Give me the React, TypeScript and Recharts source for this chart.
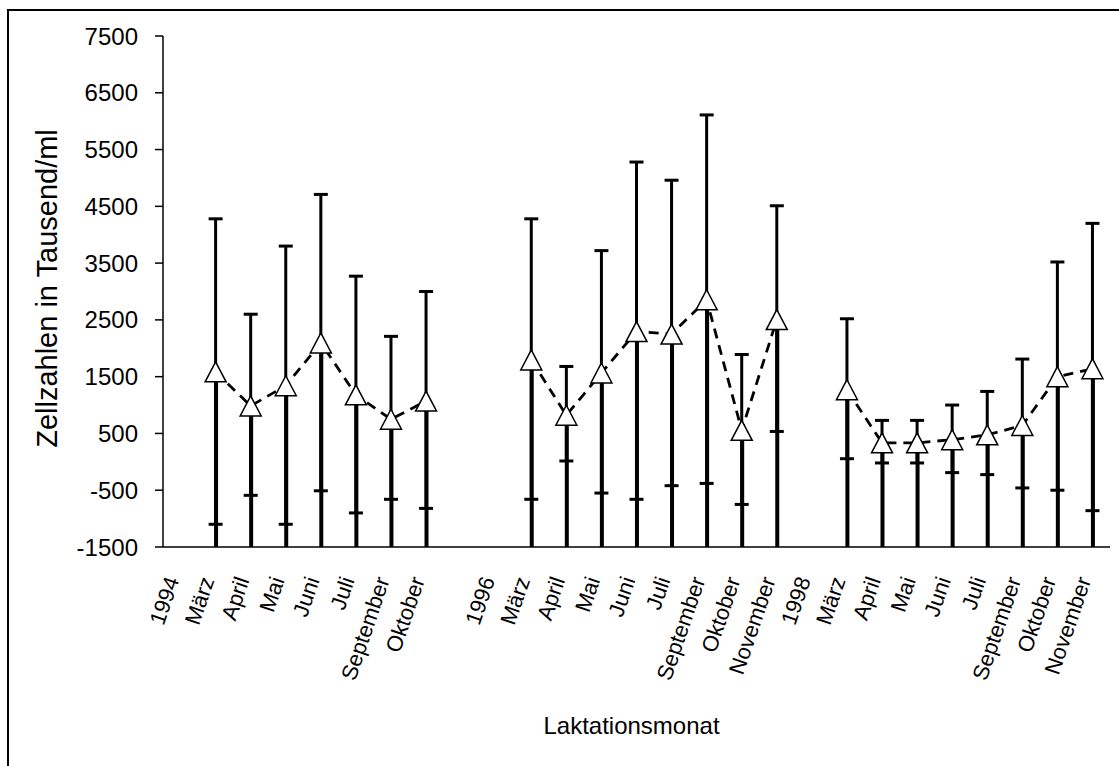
import React from 'react';
import { ComposedChart, Line, Bar, XAxis, YAxis, ErrorBar, Label } from 'recharts';

const FONT = '"Liberation Sans", Arial, sans-serif';

const categories = ['1994', 'März', 'April', 'Mai', 'Juni', 'Juli', 'September', 'Oktober', '', '1996', 'März', 'April', 'Mai', 'Juni', 'Juli', 'September', 'Oktober', 'November', '1998', 'März', 'April', 'Mai', 'Juni', 'Juli', 'September', 'Oktober', 'November'];
const meanValues = [null, 1585, 985, 1340, 2095, 1180, 750, 1070, null, null, 1795, 820, 1565, 2295, 2250, 2855, 555, 2505, null, 1270, 335, 335, 390, 475, 640, 1500, 1640];
const upperValues = [null, 4280, 2600, 3800, 4710, 3270, 2210, 3000, null, null, 4280, 1680, 3720, 5280, 4960, 6110, 1890, 4510, null, 2520, 730, 730, 1000, 1240, 1810, 3520, 4200];
const lowerValues = [null, -1100, -590, -1100, -510, -900, -660, -820, null, null, -660, 15, -550, -660, -420, -380, -750, 535, null, 55, -20, -20, -190, -225, -460, -500, -860];
const yTicks = [-1500, -500, 500, 1500, 2500, 3500, 4500, 5500, 6500, 7500];
const AXIS_MIN = -1500;
const AXIS_MAX = 7500;
const boundaryTicks = categories.map((_, i) => i).concat([categories.length]);

const data = categories.map((label, i) => {
  const m = meanValues[i];
  return {
    label,
    mean: m,
    stem: m == null ? null : [AXIS_MIN, m],
    err: m == null ? null : [m - (lowerValues[i] as number), (upperValues[i] as number) - m],
  };
});

const Triangle = (props: any) => {
  const { cx, cy } = props;
  if (cx == null || cy == null || Number.isNaN(cy)) return <g />;
  const hw = 10.5;
  const hh = 10;
  return (
    <polygon
      points={`${cx},${cy - hh} ${cx + hw},${cy + hh} ${cx - hw},${cy + hh}`}
      fill="#fff"
      stroke="#000"
      strokeWidth={1.5}
    />
  );
};

const CatTick = (props: any) => {
  const { x, y, payload } = props;
  const ax = x - 1;
  const ay = y + 33;
  return (
    <text
      x={ax}
      y={ay}
      transform={`rotate(-71, ${ax}, ${ay})`}
      textAnchor="end"
      fontSize={22}
      fontFamily={FONT}
      fill="#000"
    >
      {payload.value}
    </text>
  );
};

const YTitle = (props: any) => {
  const vb = props.viewBox || { x: 8, y: 36, width: 155, height: 511 };
  const tx = vb.x + 49;
  const ty = vb.y + vb.height / 2 - 3;
  return (
    <text
      x={tx}
      y={ty}
      transform={`rotate(-90, ${tx}, ${ty})`}
      textAnchor="middle"
      fontSize={29}
      fontFamily={FONT}
      fill="#000"
    >
      Zellzahlen in Tausend/ml
    </text>
  );
};

export default function App() {
  return (
    <div style={{ position: 'absolute', left: 0, top: 0, width: 1119, height: 766, background: '#fff', overflow: 'hidden' }}>
      <div style={{ position: 'absolute', left: 7, top: 9, width: 1130, height: 780, borderLeft: '2px solid #000', borderTop: '2px solid #000' }} />
      <div style={{ position: 'absolute', left: 0, top: 0 }}>
        <ComposedChart width={1119} height={766} data={data} margin={{ top: 36, right: 9, bottom: 19, left: 8 }}>
          <XAxis
            xAxisId="bounds"
            type="number"
            domain={[0, categories.length]}
            ticks={boundaryTicks}
            height={0}
            axisLine={false}
            tick={false}
            tickLine={{ stroke: '#000', strokeWidth: 1.5 }}
            tickSize={8}
            interval={0}
            allowDataOverflow
          />
          <XAxis
            dataKey="label"
            type="category"
            height={200}
            interval={0}
            tickLine={false}
            tickSize={0}
            tickMargin={0}
            axisLine={{ stroke: '#000', strokeWidth: 1.5 }}
            tick={<CatTick />}
            label={{ value: 'Laktationsmonat', position: 'insideBottom', offset: 13, dx: -5, fontSize: 24, fontFamily: FONT, fill: '#000' }}
          />
          <YAxis
            type="number"
            domain={[AXIS_MIN, AXIS_MAX]}
            ticks={yTicks}
            interval={0}
            width={155}
            allowDataOverflow
            axisLine={{ stroke: '#000', strokeWidth: 1.5 }}
            tickLine={{ stroke: '#000', strokeWidth: 1.5 }}
            tickSize={8}
            tickMargin={17}
            tick={{ fill: '#000', fontSize: 24, fontFamily: FONT }}
          >
            <Label content={<YTitle />} />
          </YAxis>
          <Bar dataKey="stem" barSize={4} fill="#000" isAnimationActive={false} />
          <Line
            dataKey="mean"
            stroke="#000"
            strokeWidth={2.8}
            strokeDasharray="10 7"
            connectNulls={false}
            dot={(p: any) => <Triangle key={`t-${p.index}`} cx={p.cx} cy={p.cy} />}
            activeDot={false}
            isAnimationActive={false}
          >
            <ErrorBar dataKey="err" width={7} strokeWidth={3} stroke="#000" direction="y" isAnimationActive={false} />
          </Line>
        </ComposedChart>
      </div>
    </div>
  );
}
